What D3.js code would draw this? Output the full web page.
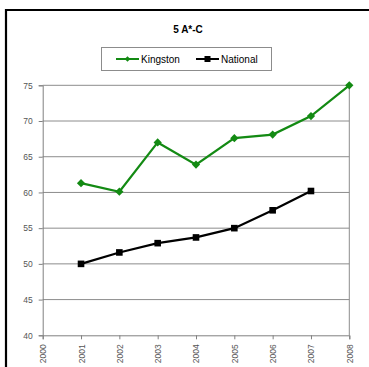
<!DOCTYPE html>
<html><head><meta charset="utf-8">
<script src="https://cdn.jsdelivr.net/npm/d3@7"></script>
<style>html,body{margin:0;padding:0;background:#fff;overflow:hidden}</style>
</head><body>
<svg id="c" width="369" height="367"></svg>
<script>
const years = [2000,2001,2002,2003,2004,2005,2006,2007,2008];
const kingstonYears = [2001,2002,2003,2004,2005,2006,2007,2008];
const kingston = [61.3,60.1,67.0,63.9,67.6,68.1,70.7,75.0];
const nationalYears = [2001,2002,2003,2004,2005,2006,2007];
const national = [50.0,51.6,52.9,53.7,55.0,57.5,60.2];
const yTicks = [40,45,50,55,60,65,70,75];
const title = "5 A*-C";
const seriesNames = ["Kingston","National"];

const svg = d3.select("#c");
const font = "Arial, 'Liberation Sans', sans-serif";
// outer frame
svg.append("path").attr("d","M6,367 V10 H369").attr("fill","none").attr("stroke","#000").attr("stroke-width",2.2);

const x = d3.scaleLinear().domain([2000,2008]).range([42.7,349.3]);
const y = d3.scaleLinear().domain([40,75]).range([335.3,85.3]);

// gridlines
svg.append("g").selectAll("line").data(yTicks.slice(1)).join("line")
  .attr("x1",x(2000)).attr("x2",x(2008)).attr("y1",d=>y(d)).attr("y2",d=>y(d))
  .attr("stroke","#8c8c8c").attr("stroke-width",1);
// right border
svg.append("line").attr("x1",x(2008)).attr("x2",x(2008)).attr("y1",y(75)).attr("y2",y(40)).attr("stroke","#8c8c8c");

const yAxis = svg.append("g").attr("transform",`translate(${x(2000)},0)`)
  .call(d3.axisLeft(y).tickValues(yTicks).tickSize(4).tickPadding(6));
const xAxis = svg.append("g").attr("transform",`translate(0,${y(40)})`)
  .call(d3.axisBottom(x).tickValues(years).tickFormat(d3.format("d")).tickSize(4));
[yAxis,xAxis].forEach(a=>{
  a.select(".domain").attr("stroke","#808080");
  a.selectAll(".tick line").attr("stroke","#808080");
  a.selectAll("text").attr("fill","#555").style("font-family",font).style("font-size","8.5px");
});
xAxis.selectAll("text").attr("transform","rotate(-90)").attr("text-anchor","end")
  .attr("x",-9).attr("y",0).attr("dy","0.35em");

const line = d3.line().x(d=>x(d[0])).y(d=>y(d[1]));
const kData = kingstonYears.map((yr,i)=>[yr,kingston[i]]);
const nData = nationalYears.map((yr,i)=>[yr,national[i]]);
const green = "#138a13";
svg.append("path").datum(kData).attr("d",line).attr("fill","none").attr("stroke",green).attr("stroke-width",2.2);
svg.append("path").datum(nData).attr("d",line).attr("fill","none").attr("stroke","#000").attr("stroke-width",2.2);
const diamond = d3.symbol().type(d3.symbolSquare).size(34);
svg.append("g").selectAll("path").data(kData).join("path")
  .attr("transform",d=>`translate(${x(d[0])},${y(d[1])}) rotate(45)`).attr("d",diamond).attr("fill",green);
svg.append("g").selectAll("rect").data(nData).join("rect")
  .attr("x",d=>x(d[0])-3.3).attr("y",d=>y(d[1])-3.3).attr("width",6.6).attr("height",6.6).attr("fill","#000");

// title
svg.append("text").attr("x",188).attr("y",33).attr("text-anchor","middle")
  .style("font-family",font).style("font-size","10px").style("font-weight","bold").text(title);

// legend
svg.append("rect").attr("x",101.5).attr("y",47.5).attr("width",170).attr("height",23)
  .attr("fill","#fff").attr("stroke","#8c8c8c");
const leg = [{name:seriesNames[0],c:green,x0:116,sym:"d"},{name:seriesNames[1],c:"#000",x0:196,sym:"s"}];
leg.forEach(l=>{
  svg.append("line").attr("x1",l.x0).attr("x2",l.x0+23).attr("y1",59).attr("y2",59).attr("stroke",l.c).attr("stroke-width",2);
  if(l.sym==="d") svg.append("path").attr("transform",`translate(${l.x0+11.5},59) rotate(45)`).attr("d",d3.symbol().type(d3.symbolSquare).size(16)).attr("fill",l.c);
  else svg.append("rect").attr("x",l.x0+8.5).attr("y",56).attr("width",6).attr("height",6).attr("fill",l.c);
  svg.append("text").attr("x",l.x0+25).attr("y",62.5).style("font-family",font).style("font-size","10px").attr("fill","#000").text(l.name);
});
</script>
</body></html>
